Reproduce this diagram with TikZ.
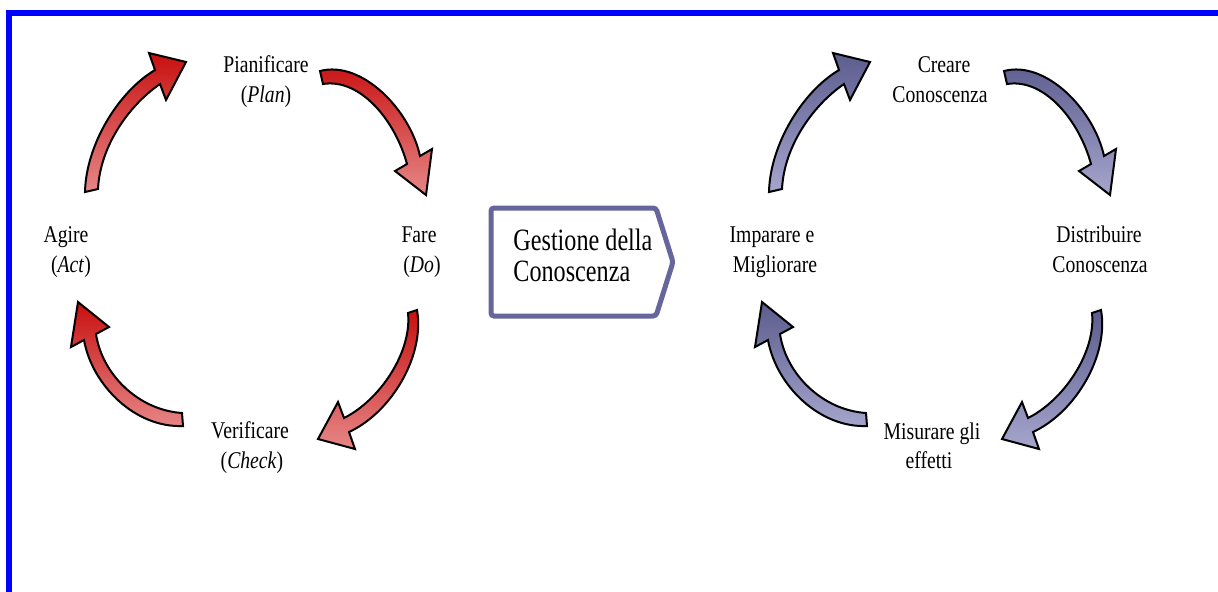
\documentclass[tikz,border=0pt]{standalone}
\usepackage{fontspec}
\setmainfont[FakeStretch=0.82]{Liberation Serif}
\newfontfamily\gestfont[FakeStretch=0.78]{Liberation Serif}
\definecolor{rdark}{RGB}{200,16,16}
\definecolor{rlight}{RGB}{230,135,135}
\definecolor{bdark}{RGB}{92,92,142}
\definecolor{blight}{RGB}{165,165,205}
\definecolor{boxc}{RGB}{102,102,156}
\newcommand\cyclearrowsdraw[1]{%
  \path[#1] (85,192) .. controls (86,145) and (118,92) .. (155,70) -- (149,53) -- (186,62) -- (166,100) -- (160,84) .. controls (128,106) and (100,147) .. (98,189) -- cycle;
  \path[#1] (320,71) .. controls (362,60) and (410,110) .. (420,156) -- (432,149) -- (426,195) -- (395,171) -- (407,164) .. controls (395,120) and (360,78) .. (323,84) -- cycle;
  \path[#1] (417,310) .. controls (425,355) and (392,412) .. (349,432) -- (355,449) -- (318,439) -- (338,402) -- (344,418) .. controls (380,400) and (412,352) .. (408,313) -- cycle;
  \path[#1] (183,426) .. controls (135,428) and (92,385) .. (84,340) -- (71,347) -- (78,302) -- (109,327) -- (96,334) .. controls (102,374) and (138,410) .. (182,413) -- cycle;
}
\begin{document}
\begin{tikzpicture}[x=0.5pt,y=-0.5pt,
  lbl/.style={inner sep=0pt,anchor=base,font=\fontsize{12pt}{15pt}\selectfont},
  bigl/.style={inner sep=0pt,anchor=base west,font=\gestfont\fontsize{15.5pt}{18pt}\selectfont},
  redarrow/.style={draw=black,line width=1pt,top color=rdark,bottom color=rlight},
  bluearrow/.style={draw=black,line width=1pt,top color=bdark,bottom color=blight},
  frame/.style={draw=blue,line width=3pt},
  gbox/.style={draw=boxc,line width=2.5pt,rounded corners=1.5pt,fill=white}]
\useasboundingbox (0,0) rectangle (1218,591);
\fill[white] (0,0) rectangle (1218,591);
% blue frame
\coordinate (ftl) at (9,13);
\coordinate (ftr) at (1222,13);
\coordinate (fbl) at (9,595);
\draw[frame] (ftr) -- (ftl) -- (fbl);
% left cycle (PDCA)
\cyclearrowsdraw{redarrow}
\node[lbl] (plan) at (266,72) {Pianificare};
\node[lbl] (plan2) at (266,102) {(\textit{Plan})};
\node[lbl] (do) at (419,242) {Fare};
\node[lbl] (do2) at (422,272) {(\textit{Do})};
\node[lbl] (act) at (66,242) {Agire};
\node[lbl] (act2) at (71,272) {(\textit{Act})};
\node[lbl] (check) at (250,438) {Verificare};
\node[lbl] (check2) at (252,468) {(\textit{Check})};
% central box
\draw[gbox] (491,208) -- (656,208) -- (673,262) -- (656,316) -- (491,316) -- cycle;
\node[bigl] (g1) at (513,250) {Gestione della};
\node[bigl] (g2) at (513,281) {Conoscenza};
% right cycle
\begin{scope}[shift={(684,0)}]
\cyclearrowsdraw{bluearrow}
\end{scope}
\node[lbl] (crea) at (944,72) {Creare};
\node[lbl] (crea2) at (940,102) {Conoscenza};
\node[lbl] (dist) at (1099,242) {Distribuire};
\node[lbl] (dist2) at (1100,272) {Conoscenza};
\node[lbl] (imp) at (772,242) {Imparare e};
\node[lbl] (imp2) at (775,272) {Migliorare};
\node[lbl] (mis) at (932,439) {Misurare gli};
\node[lbl] (mis2) at (929,468) {effetti};
\end{tikzpicture}
\end{document}
